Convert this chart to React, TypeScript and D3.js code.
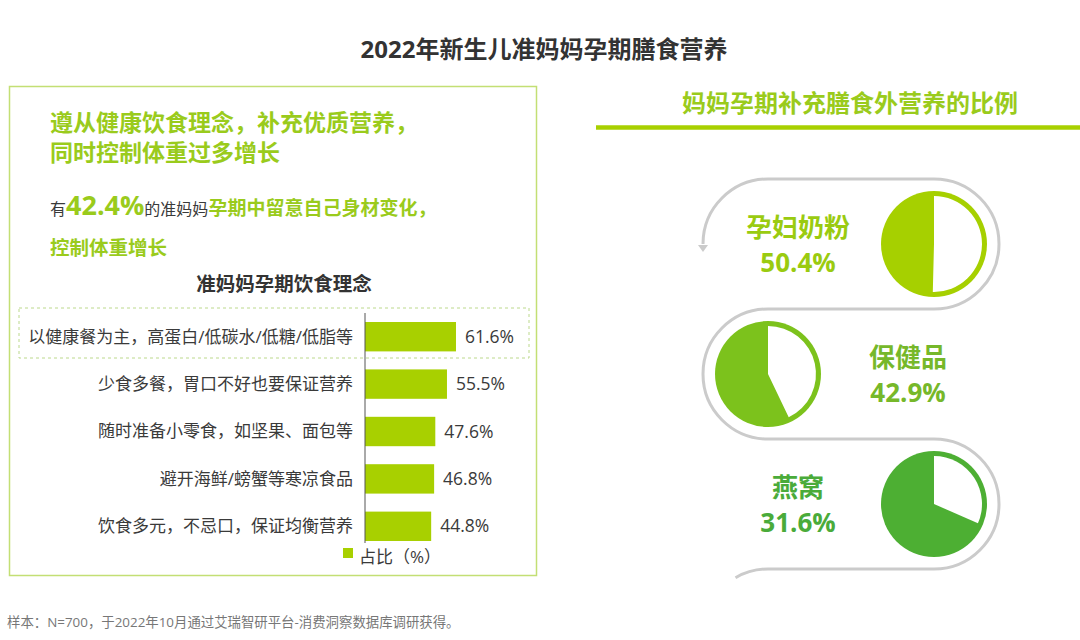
import React from "react";
import * as d3 from "d3";

const dietLabels = [
  "以健康餐为主，高蛋白/低碳水/低糖/低脂等",
  "少食多餐，胃口不好也要保证营养",
  "随时准备小零食，如坚果、面包等",
  "避开海鲜/螃蟹等寒凉食品",
  "饮食多元，不忌口，保证均衡营养",
];
const dietValues = [61.6, 55.5, 47.6, 46.8, 44.8];

const supplementNames = ["孕妇奶粉", "保健品", "燕窝"];
const supplementValues = [50.4, 42.9, 31.6];
const supplementColors = ["#a6d000", "#7cc21c", "#4daf33"];
const supplementTextColors = ["#9acb10", "#76b82a", "#4aab3a"];

const FONT = "'Open Sans', 'Noto Sans CJK SC', sans-serif";
const LIME = "#a8d000";
const HEAD_GREEN = "#9acb1c";
const DARK = "#3a3a3a";

function DietBars() {
  const x = d3.scaleLinear().domain([0, 100]).range([365, 365 + 147.7]);
  const y = d3.scaleBand<string>().domain(dietLabels).range([313, 550]).paddingInner(0.38).paddingOuter(0.19);

  return (
    <g>
      <rect x={19} y={308} width={510} height={50} fill="none" stroke="#bcd98c" strokeWidth={1} strokeDasharray="3,3" />
      {dietLabels.map((label, i) => {
        const cy = (y(label) ?? 0) + y.bandwidth() / 2;
        return (
          <g key={label}>
            <rect x={x(0)} y={y(label)} width={x(dietValues[i]) - x(0)} height={y.bandwidth()} fill={LIME} />
            <text x={353} y={cy} dy="0.35em" textAnchor="end" fontSize={17} fill={DARK}>
              {label}
            </text>
            <text x={x(dietValues[i]) + 9} y={cy} dy="0.35em" fontSize={17.5} fill={DARK}>
              {dietValues[i]}%
            </text>
          </g>
        );
      })}
      <line x1={x(0)} x2={x(0)} y1={313} y2={543} stroke="#555" strokeWidth={1} />
      <rect x={343} y={548} width={10} height={10} fill={LIME} />
      <text x={359} y={563} fontSize={17} fill={DARK}>
        占比（%）
      </text>
    </g>
  );
}

function SupplementTrack() {
  const r = 65;
  const left = 768;
  const right = 934;
  const top = 179;
  const step = 2 * r;
  const cys = supplementNames.map((_, i) => top + r + i * step);
  const pieR = 53;
  const arc = d3.arc<any>().innerRadius(0).outerRadius(pieR - 5);

  const endAng = (30 * Math.PI) / 180;
  const lastY = top + 3 * step;
  const track = [
    `M ${left - r} ${cys[0]}`,
    `A ${r} ${r} 0 0 1 ${left} ${top}`,
    `L ${right} ${top}`,
    `A ${r} ${r} 0 0 1 ${right} ${top + step}`,
    `L ${left} ${top + step}`,
    `A ${r} ${r} 0 0 0 ${left} ${top + 2 * step}`,
    `L ${right} ${top + 2 * step}`,
    `A ${r} ${r} 0 0 1 ${right} ${lastY}`,
    `L ${left} ${lastY}`,
    `A ${r} ${r} 0 0 0 ${left - r * Math.sin(endAng)} ${lastY + r - r * Math.cos(endAng)}`,
  ].join(" ");

  return (
    <g>
      <path d={track} fill="none" stroke="#cbcbcb" strokeWidth={3} />
      <path
        d={`M ${left - r - 5} ${cys[0] + 1} L ${left - r + 5} ${cys[0] + 1} L ${left - r} ${cys[0] + 8} Z`}
        fill="#cbcbcb"
      />
      {supplementNames.map((name, i) => {
        const pieX = i % 2 === 0 ? right : left;
        const textX = i % 2 === 0 ? 798 : 908;
        const cy = cys[i];
        return (
          <g key={name}>
            <circle cx={pieX} cy={cy} r={pieR} fill={supplementColors[i]} />
            <path
              transform={`translate(${pieX},${cy})`}
              d={arc({ startAngle: 0, endAngle: (supplementValues[i] / 100) * Math.PI * 2 }) ?? ""}
              fill="#fff"
            />
            <text x={textX} y={cy - 7} textAnchor="middle" fontSize={26} fontWeight="bold" fill={supplementTextColors[i]}>
              {name}
            </text>
            <text x={textX} y={cy + 28} textAnchor="middle" fontSize={26} fontWeight="bold" fill={supplementTextColors[i]}>
              {supplementValues[i].toFixed(1)}%
            </text>
          </g>
        );
      })}
    </g>
  );
}

export default function App() {
  return (
    <svg
      width={1080}
      height={640}
      style={{ position: "absolute", left: 0, top: 0, background: "#fff" }}
      fontFamily={FONT}
    >
      <text x={544} y={58} textAnchor="middle" fontSize={24} fontWeight="bold" fill="#333">
        2022年新生儿准妈妈孕期膳食营养
      </text>

      {/* left panel */}
      <rect x={9.5} y={86.5} width={527} height={489} fill="none" stroke="#c3df74" strokeWidth={1.5} />
      <text x={50} y={131} fontSize={23} fontWeight="bold" fill={HEAD_GREEN}>
        遵从健康饮食理念，补充优质营养，
      </text>
      <text x={50} y={161} fontSize={23} fontWeight="bold" fill={HEAD_GREEN}>
        同时控制体重过多增长
      </text>
      <text x={50} y={215} fontSize={16} fill={DARK}>
        有
        <tspan fontSize={27} fontWeight="bold" fill={HEAD_GREEN}>
          42.4%
        </tspan>
        <tspan>的准妈妈</tspan>
        <tspan fontSize={19} fontWeight="bold" fill={HEAD_GREEN}>
          孕期中留意自己身材变化，
        </tspan>
      </text>
      <text x={50} y={255} fontSize={19.5} fontWeight="bold" fill={HEAD_GREEN}>
        控制体重增长
      </text>
      <text x={284} y={291} textAnchor="middle" fontSize={19.5} fontWeight="bold" fill="#333">
        准妈妈孕期饮食理念
      </text>
      <DietBars />

      {/* right panel */}
      <text x={850} y={112} textAnchor="middle" fontSize={24} fontWeight="bold" fill={HEAD_GREEN}>
        妈妈孕期补充膳食外营养的比例
      </text>
      <line x1={596} x2={1080} y1={127.5} y2={127.5} stroke={LIME} strokeWidth={4.5} />
      <SupplementTrack />

      <text x={7} y={627} fontSize={13.4} fill="#777">
        样本：N=700，于2022年10月通过艾瑞智研平台-消费洞察数据库调研获得。
      </text>
    </svg>
  );
}
